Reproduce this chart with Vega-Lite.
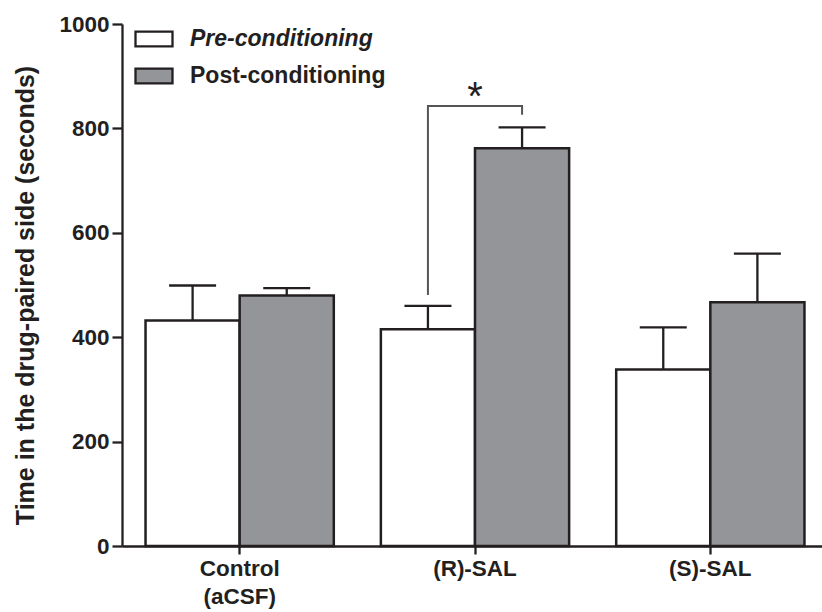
{
  "$schema": "https://vega.github.io/schema/vega-lite/v6.json",
  "autosize": {"type": "none"},
  "width": 700,
  "height": 522,
  "padding": {"left": 122, "top": 24, "right": 0, "bottom": 66},
  "config": {
    "view": {"stroke": null},
    "font": "Liberation Sans",
    "axis": {
      "domainColor": "#231f20", "domainWidth": 2.3,
      "tickColor": "#231f20", "tickWidth": 2.3,
      "labelColor": "#231f20", "labelFontSize": 22.5, "labelFontWeight": "bold",
      "titleColor": "#231f20", "titleFontSize": 25, "titleFontWeight": "bold",
      "grid": false
    }
  },
  "datasets": {
    "bars": [
      {"group": "Control (aCSF)", "phase": "Pre-conditioning", "mean": 432, "upper": 499},
      {"group": "Control (aCSF)", "phase": "Post-conditioning", "mean": 480, "upper": 494},
      {"group": "(R)-SAL", "phase": "Pre-conditioning", "mean": 415, "upper": 460},
      {"group": "(R)-SAL", "phase": "Post-conditioning", "mean": 762, "upper": 802},
      {"group": "(S)-SAL", "phase": "Pre-conditioning", "mean": 338, "upper": 419},
      {"group": "(S)-SAL", "phase": "Post-conditioning", "mean": 467, "upper": 560}
    ],
    "bracket": [
      {"group": "(R)-SAL", "phase": "Pre-conditioning", "val": 481, "ord": 1},
      {"group": "(R)-SAL", "phase": "Pre-conditioning", "val": 843, "ord": 2},
      {"group": "(R)-SAL", "phase": "Post-conditioning", "val": 843, "ord": 3},
      {"group": "(R)-SAL", "phase": "Post-conditioning", "val": 826, "ord": 4}
    ],
    "sig": [
      {"group": "(R)-SAL", "val": 836, "label": "*"}
    ]
  },
  "encoding": {
    "x": {
      "field": "group", "type": "nominal",
      "sort": ["Control (aCSF)", "(R)-SAL", "(S)-SAL"],
      "scale": {"paddingInner": 0.2, "paddingOuter": 0.1, "range": [0, 706]},
      "axis": {
        "title": null, "labelAngle": 0, "tickSize": 8, "labelPadding": 3,
        "labelBaseline": "top", "labelLineHeight": 28,
        "labelExpr": "datum.label == 'Control (aCSF)' ? ['Control', '(aCSF)'] : datum.label"
      }
    }
  },
  "layer": [
    {
      "data": {"name": "bars"},
      "mark": {"type": "bar", "stroke": "#231f20", "strokeWidth": 2.5},
      "encoding": {
        "xOffset": {"field": "phase", "type": "nominal", "sort": ["Pre-conditioning", "Post-conditioning"], "scale": {"paddingInner": 0, "paddingOuter": 0}},
        "y": {
          "field": "mean", "type": "quantitative",
          "scale": {"domain": [0, 1000], "nice": false},
          "axis": {
            "values": [0, 200, 400, 600, 800, 1000], "format": "d", "tickSize": 10, "labelPadding": 3,
            "title": "Time in the drug-paired side (seconds)",
            "titleX": -89, "titleY": 271, "titleAngle": -90, "titleAlign": "center", "titleBaseline": "alphabetic"
          }
        },
        "fill": {
          "field": "phase", "type": "nominal",
          "scale": {"domain": ["Pre-conditioning", "Post-conditioning"], "range": ["#ffffff", "#939598"]},
          "legend": {
            "orient": "none", "legendX": 12, "legendY": -5, "title": null, "padding": 0,
            "symbolType": "M-1,-0.4H1V0.4H-1Z", "symbolSize": 1369,
            "symbolStrokeColor": "#231f20", "symbolStrokeWidth": 2.3,
            "labelFontSize": 23, "labelFontWeight": "bold", "labelColor": "#231f20",
            "labelOffset": 16, "rowPadding": 5, "labelLimit": 400,
            "encode": {"labels": {"update": {"fontStyle": {"signal": "datum.value === 'Pre-conditioning' ? 'italic' : 'normal'"}}}}
          }
        }
      }
    },
    {
      "data": {"name": "bars"},
      "mark": {"type": "rule", "color": "#231f20", "strokeWidth": 2.3},
      "encoding": {
        "xOffset": {"field": "phase", "type": "nominal", "sort": ["Pre-conditioning", "Post-conditioning"]},
        "y": {"field": "mean", "type": "quantitative"},
        "y2": {"field": "upper"}
      }
    },
    {
      "data": {"name": "bars"},
      "mark": {"type": "tick", "orient": "horizontal", "color": "#231f20", "size": 47, "thickness": 2.3, "opacity": 1},
      "encoding": {
        "xOffset": {"field": "phase", "type": "nominal", "sort": ["Pre-conditioning", "Post-conditioning"]},
        "y": {"field": "upper", "type": "quantitative"}
      }
    },
    {
      "data": {"name": "bracket"},
      "mark": {"type": "line", "color": "#555555", "strokeWidth": 2},
      "encoding": {
        "xOffset": {"field": "phase", "type": "nominal", "sort": ["Pre-conditioning", "Post-conditioning"]},
        "y": {"field": "val", "type": "quantitative"},
        "order": {"field": "ord", "type": "quantitative"}
      }
    },
    {
      "data": {"name": "sig"},
      "mark": {"type": "text", "fontSize": 40, "color": "#231f20", "baseline": "alphabetic", "align": "center"},
      "encoding": {
        "y": {"field": "val", "type": "quantitative"},
        "text": {"field": "label"}
      }
    }
  ]
}
